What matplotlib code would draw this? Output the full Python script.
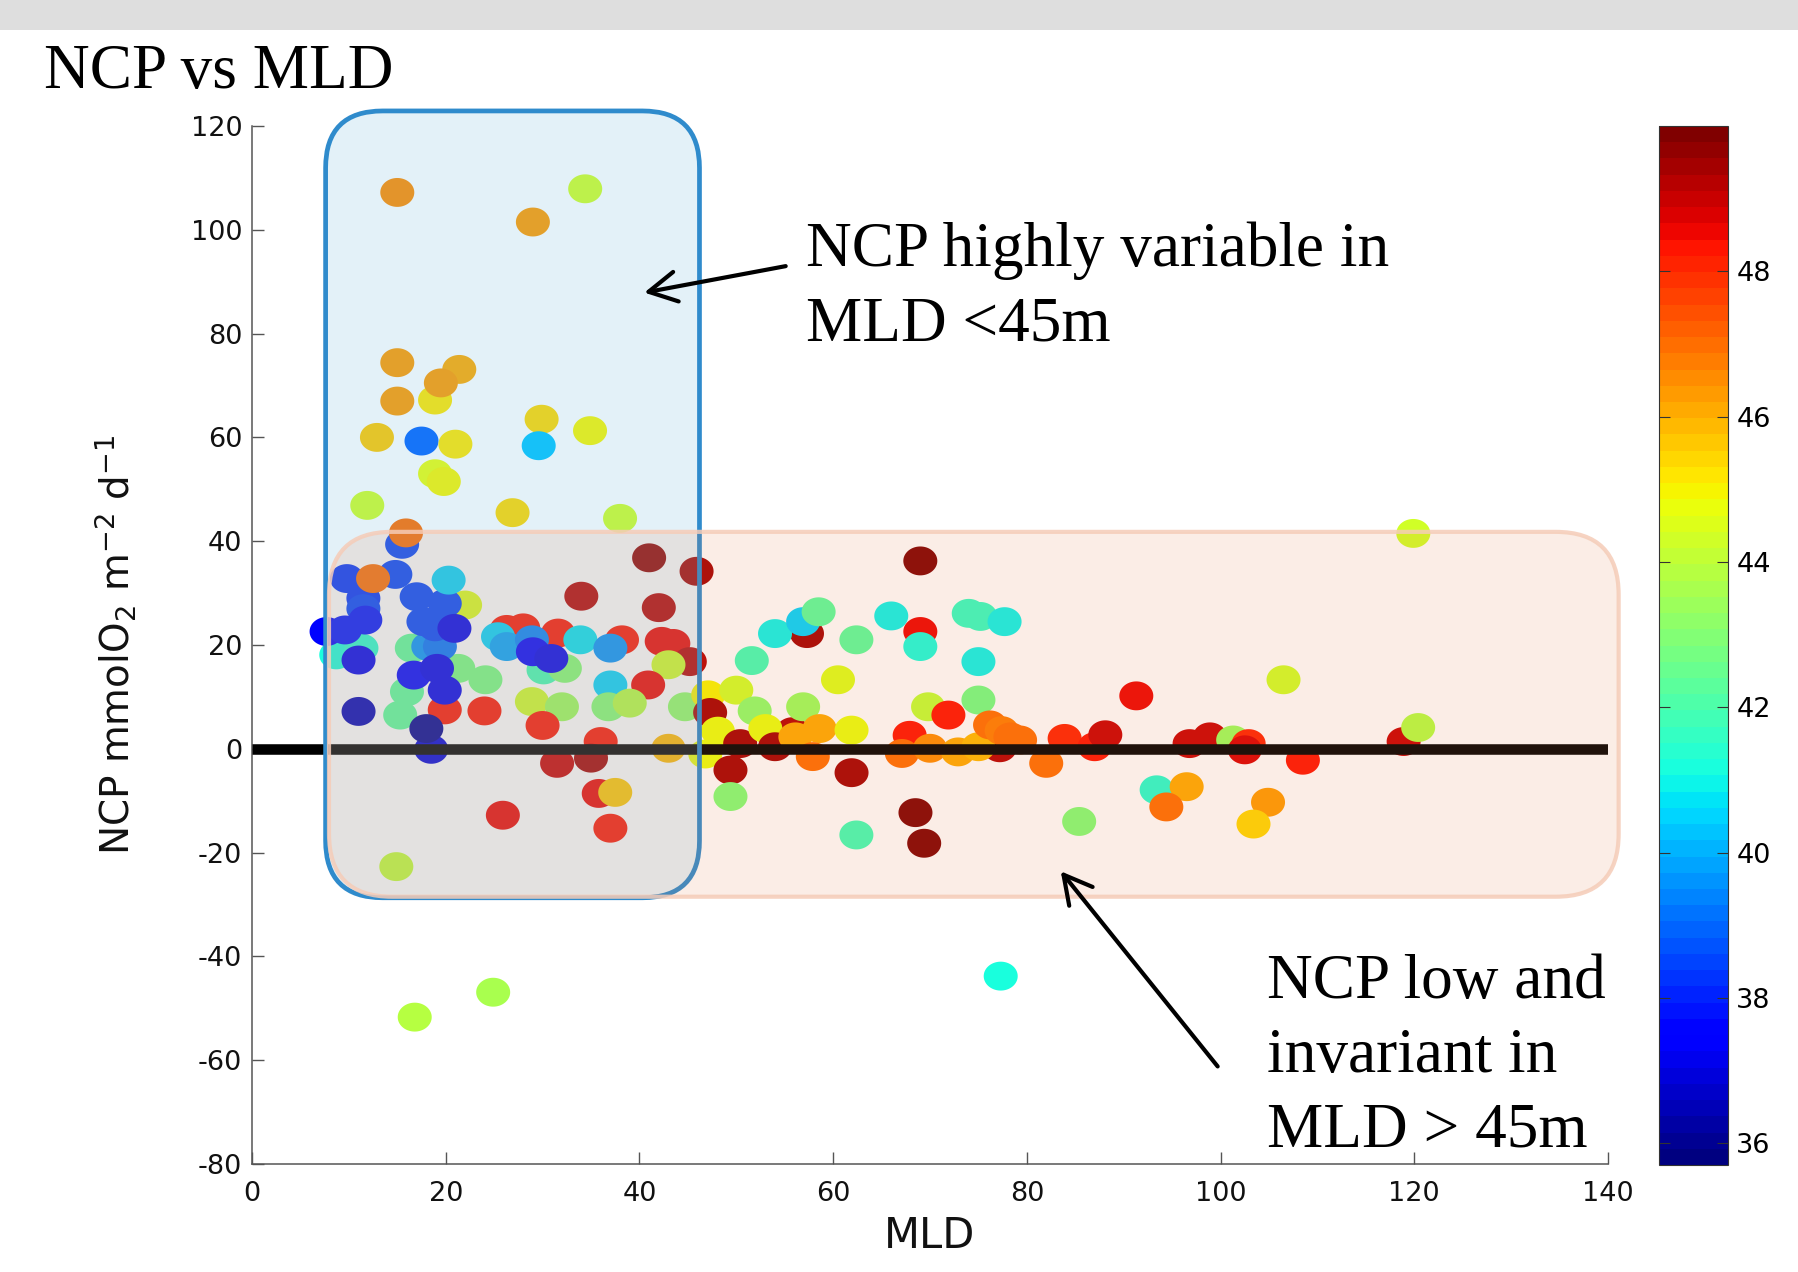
import numpy as np
import matplotlib
matplotlib.use("Agg")
import matplotlib.pyplot as plt
from matplotlib.patches import FancyBboxPatch, FancyArrowPatch, Rectangle
from matplotlib.transforms import IdentityTransform
from matplotlib.path import Path
from matplotlib.colors import Normalize
from matplotlib.cm import ScalarMappable

plt.rcParams["axes.unicode_minus"] = False

# ---------------- data ----------------
mld = [22.0, 18.9, 8.7, 11.3, 7.7, 57.3, 55.8, 77.2, 46.8,
       15.0, 34.4, 29.0, 15.0, 21.4, 19.5, 15.0, 12.9, 17.5, 21.0, 29.9, 29.6,
       34.9, 18.9, 19.8, 11.9, 26.9, 38.0, 15.5, 15.9, 41.0, 45.9,
       16.5, 21.3, 24.1, 16.0, 15.3, 18.2, 19.4,
       9.8, 14.8, 11.5, 11.5, 11.7, 9.6, 17.0, 19.9, 17.7, 18.9, 20.9, 11.0,
       19.9, 24.0, 16.7, 19.1, 19.9, 11.0, 18.5, 18.0, 12.5, 20.3,
       26.3, 28.0, 31.6, 38.2, 42.3, 43.5, 45.2, 30.1, 32.3,
       25.4, 26.3, 28.9, 33.9, 37.0, 29.0, 30.9, 43.0, 40.9, 37.0,
       28.9, 32.0, 36.8, 39.0, 44.7, 30.0, 36.0, 31.5, 35.0, 43.0, 35.8, 37.5,
       25.9, 37.0, 34.0, 42.0, 14.9, 16.8, 24.9,
       47.1, 47.3, 48.1, 50.0, 51.9, 51.6, 50.4, 49.4, 49.4,
       54.0, 56.9, 58.5, 62.4, 66.0, 69.0, 69.0, 74.0, 75.2, 77.7, 75.0,
       60.5, 56.9, 53.0, 54.0, 56.1, 58.6, 61.9, 57.9, 61.9,
       69.8, 71.9, 75.0, 67.9, 67.1, 70.0, 72.9, 75.0, 76.2, 77.4,
       69.0, 68.5, 69.4, 62.4,
       91.3, 106.5, 118.9, 120.4, 78.3, 79.3, 83.9, 87.0, 88.1, 82.0,
       96.8, 98.9, 101.3, 102.9, 102.5, 108.5, 85.4, 93.4, 96.5, 94.4,
       104.9, 103.4, 77.3, 119.9]

ncp = [27.7, 67.2, 18.1, 19.4, 22.6, 22.2, 3.3, 0.2, -1.0,
       107.2, 107.9, 101.5, 74.4, 73.1, 70.5, 67.0, 60.0, 59.3, 58.7, 63.5, 58.4,
       61.3, 53.0, 51.5, 46.9, 45.5, 44.4, 39.4, 41.6, 36.8, 34.2,
       19.4, 15.5, 13.3, 11.0, 6.5, 19.7, 19.7,
       32.8, 33.6, 29.0, 27.0, 24.8, 22.9, 29.3, 28.0, 24.5, 23.5, 23.2, 17.1,
       7.5, 7.3, 14.2, 15.5, 11.3, 7.2, -0.1, 3.9, 32.8, 32.5,
       23.0, 23.3, 22.3, 21.0, 20.7, 20.3, 16.8, 15.2, 15.5,
       21.6, 19.7, 21.0, 21.0, 19.4, 18.7, 17.4, 16.2, 12.3, 12.3,
       9.1, 8.1, 8.1, 8.8, 8.1, 4.5, 1.4, -2.8, -1.8, 0.1, -8.6, -8.4,
       -12.8, -15.3, 29.4, 27.2, -22.7, -51.7, -46.9,
       10.4, 7.0, 3.4, 11.3, 7.3, 17.0, 1.0, -4.1, -9.2,
       22.2, 24.5, 26.4, 21.0, 25.6, 22.6, 19.7, 26.1, 25.5, 24.5, 16.8,
       13.3, 8.1, 3.9, 0.4, 2.3, 3.9, 3.6, -1.5, -4.6,
       8.1, 6.5, 9.4, 2.6, -0.9, 0.1, -0.6, 0.4, 4.6, 3.5,
       36.2, -12.3, -18.2, -16.6,
       10.2, 13.3, 1.4, 4.1, 2.3, 1.7, 2.0, 0.4, 2.7, -2.8,
       1.0, 2.3, 1.7, 1.0, -0.2, -2.2, -14.0, -7.9, -7.3, -11.2,
       -10.3, -14.5, -43.8, 41.5]

cval = [44.6, 45.1, 41.2, 41.4, 37.6, 49.5, 49.3, 49.3, 44.8,
        46.6, 44.2, 46.3, 46.4, 46.1, 46.4, 46.3, 45.6, 39.0, 45.3, 45.5, 40.2,
        44.9, 44.7, 45.0, 44.3, 45.4, 44.2, 38.5, 47.0, 49.6, 49.5,
        42.3, 42.7, 42.7, 42.4, 42.4, 39.7, 39.2,
        38.3, 38.4, 38.2, 38.4, 37.9, 37.8, 38.4, 38.4, 38.6, 38.4, 37.2, 37.1,
        48.3, 48.4, 37.5, 37.1, 37.1, 36.5, 37.0, 36.1, 47.0, 40.4,
        48.3, 48.3, 48.3, 48.3, 48.5, 48.5, 49.2, 41.8, 43.0,
        40.6, 39.8, 39.3, 40.7, 39.5, 37.3, 37.2, 44.2, 48.6, 40.6,
        44.2, 43.4, 43.0, 43.9, 43.1, 48.4, 48.4, 49.0, 49.5, 45.8, 48.5, 45.6,
        48.5, 48.4, 49.2, 49.2, 44.0, 43.8, 43.7,
        44.9, 49.5, 44.7, 44.2, 43.2, 41.8, 49.5, 49.5, 42.9,
        40.9, 40.4, 42.3, 42.4, 40.9, 48.5, 41.2, 41.6, 41.7, 40.9, 40.9,
        44.5, 43.5, 44.7, 49.5, 46.0, 46.0, 44.8, 47.0, 49.5,
        44.0, 48.4, 42.8, 48.3, 47.0, 46.5, 46.0, 45.9, 47.0, 46.8,
        50.0, 50.0, 50.0, 41.8,
        48.6, 44.3, 49.1, 43.9, 47.0, 47.0, 48.0, 48.4, 49.0, 47.0,
        49.0, 49.0, 43.3, 48.2, 48.7, 48.3, 43.0, 41.3, 46.0, 47.0,
        46.4, 45.4, 41.2, 44.2]

x_ticks = [0, 20, 40, 60, 80, 100, 120, 140]
y_ticks = [-80, -60, -40, -20, 0, 20, 40, 60, 80, 100, 120]
cbar_ticks = [36, 38, 40, 42, 44, 46, 48]
c_min, c_max = 35.7, 50.0

title = "NCP vs MLD"
note_top = ["NCP highly variable in", "MLD <45m"]
note_bottom = ["NCP low and", "invariant in", "MLD > 45m"]

# region boxes (data units: MLD range, NCP range)
box_shallow = (7.6, 46.2, -28.7, 122.9)
box_deep = (7.95, 141.1, -28.5, 41.8)
# arrows (tail -> head, data units)
arrow_top = ((55.1, 93.0), (40.5, 87.9))
arrow_bottom = ((99.7, -61.2), (83.5, -23.6))

# ---------------- figure ----------------
W, H = 1798, 1272
fig = plt.figure(figsize=(W / 100, H / 100), dpi=100)
fig.patch.set_facecolor("white")


def px_rect(x0, y0, x1, y1):
    return [x0 / W, 1 - y1 / H, (x1 - x0) / W, (y1 - y0) / H]


ax = fig.add_axes(px_rect(252, 126, 1608, 1164))
cax = fig.add_axes(px_rect(1659, 126, 1728, 1165))

fig.add_artist(Rectangle((0, 1 - 30 / H), 1, 30 / H, transform=fig.transFigure,
                         facecolor="#dedede", edgecolor="none", zorder=1))

cmap = plt.get_cmap("jet", 64)
norm = Normalize(c_min, c_max)

t = np.linspace(0, 2 * np.pi, 64)
ellipse = Path(np.column_stack([np.cos(t), 0.85 * np.sin(t)]), closed=True)

ax.scatter(mld, ncp, c=cval, cmap=cmap, norm=norm, s=600, marker=ellipse,
           linewidths=0, zorder=2)
ax.axhline(0, color="black", lw=7.6, solid_capstyle="butt", zorder=3)

ax.set_xlim(0, 140)
ax.set_ylim(-80, 120)
ax.set_xticks(x_ticks)
ax.set_yticks(y_ticks)
for s in ("top", "right"):
    ax.spines[s].set_visible(False)
for s in ("left", "bottom"):
    ax.spines[s].set_color("#555555")
    ax.spines[s].set_linewidth(1.1)
ax.tick_params(direction="in", length=8.5, width=1.0, color="#555555",
               labelsize=19.5, labelcolor="#111111")
ax.tick_params(axis="x", pad=12)
ax.tick_params(axis="y", pad=7)

ax.set_xlabel("MLD", fontsize=30, color="#111111")
ax.xaxis.label.set_va("baseline")
ax.xaxis.set_label_coords(0.5, -(1248 - 1164) / 1038)

ax.set_ylabel(r"NCP mmolO$_2$ m$^{-2}$ d$^{-1}$", fontsize=28, color="#111111")
ax.yaxis.label.set_va("baseline")
ax.yaxis.set_label_coords((130 - 252) / 1356, 0.5)

# colorbar
cb = fig.colorbar(ScalarMappable(norm=norm, cmap=cmap), cax=cax)
cb.set_ticks(cbar_ticks)
cax.tick_params(direction="in", length=8, width=0.8, color="#333333",
                left=True, right=True, labelsize=19.5, pad=6)
cb.outline.set_edgecolor("#333333")
cb.outline.set_linewidth(0.8)

fig.canvas.draw()


def rounded_box(bounds, radius, face, alpha, edge, lw, z):
    x0, x1, y0, y1 = bounds
    p0 = ax.transData.transform((x0, y0))
    p1 = ax.transData.transform((x1, y1))
    fill = FancyBboxPatch(tuple(p0), p1[0] - p0[0], p1[1] - p0[1],
                          boxstyle=f"round,pad=0,rounding_size={radius}",
                          transform=IdentityTransform(), facecolor=face,
                          alpha=alpha, edgecolor="none", zorder=z)
    fig.add_artist(fill)
    line = FancyBboxPatch(tuple(p0), p1[0] - p0[0], p1[1] - p0[1],
                          boxstyle=f"round,pad=0,rounding_size={radius}",
                          transform=IdentityTransform(), facecolor="none",
                          edgecolor=edge, linewidth=lw, zorder=z + 0.01)
    fig.add_artist(line)


rounded_box(box_shallow, 57, (115 / 255, 185 / 255, 220 / 255), 0.2,
            "#2f8bcc", 3.4, 1.2)
rounded_box(box_deep, 63, (230 / 255, 130 / 255, 80 / 255), 0.14,
            (0.96, 0.80, 0.72, 0.85), 3.0, 1.3)

for tail, head in (arrow_top, arrow_bottom):
    arr = FancyArrowPatch(posA=tail, posB=head, transform=ax.transData,
                          arrowstyle="->,head_length=0.5,head_width=0.27",
                          mutation_scale=40, lw=3, color="black",
                          shrinkA=0, shrinkB=0, zorder=5)
    fig.add_artist(arr)

serif = "Liberation Serif"
fig.text(44 / W, 1 - 88 / H, title, family=serif, fontsize=45.5,
         ha="left", va="baseline", zorder=6)
for i, line in enumerate(note_top):
    fig.text(806 / W, 1 - (266 + 74.5 * i) / H, line, family=serif,
             fontsize=45.5, ha="left", va="baseline", zorder=6)
for i, line in enumerate(note_bottom):
    fig.text(1267 / W, 1 - (997.6 + 74.5 * i) / H, line, family=serif,
             fontsize=45.5, ha="left", va="baseline", zorder=6)

fig.savefig("out.png", dpi=100)
